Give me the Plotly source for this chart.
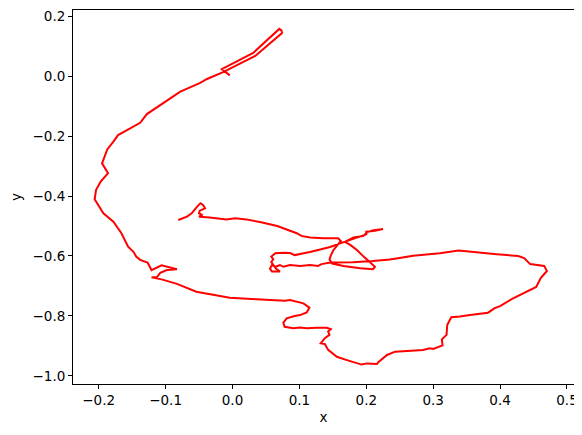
import plotly.graph_objects as go

x_vals = [-0.004, -0.016, 0.031, 0.070, 0.0732, 0.074, 0.034, -0.014, -0.038, -0.049,
          -0.078, -0.101, -0.128, -0.138, -0.171, -0.178, -0.187, -0.195, -0.186, -0.197,
          -0.204, -0.206, -0.193, -0.178, -0.166, -0.156, -0.148, -0.144, -0.138, -0.127,
          -0.121, -0.106, -0.093, -0.083, -0.098, -0.108, -0.113, -0.121, -0.106, -0.083,
          -0.054, -0.029, -0.004, 0.036, 0.078, 0.086, 0.106, 0.115, 0.111, 0.101,
          0.093, 0.081, 0.076, 0.078, 0.091, 0.101, 0.111, 0.126, 0.141, 0.147,
          0.143, 0.145, 0.138, 0.132, 0.138, 0.143, 0.156, 0.171, 0.183, 0.193,
          0.201, 0.216, 0.218, 0.231, 0.243, 0.265, 0.285, 0.295, 0.300, 0.314,
          0.313, 0.320, 0.321, 0.327, 0.340, 0.355, 0.370, 0.382, 0.392, 0.400,
          0.418, 0.440, 0.454, 0.461, 0.470, 0.466, 0.445, 0.436, 0.427, 0.395,
          0.380, 0.360, 0.338, 0.310, 0.270, 0.245, 0.235, 0.210, 0.180, 0.153,
          0.147, 0.133, 0.128, 0.116, 0.101, 0.086, 0.076, 0.071, 0.064, 0.059,
          0.056, 0.059, 0.071, 0.065, 0.058, 0.061, 0.058, 0.064, 0.076, 0.086,
          0.093, 0.116, 0.146, 0.162, 0.176, 0.200, 0.200, 0.213, 0.225, 0.209,
          0.200, 0.196, 0.181, 0.173, 0.168, 0.176, 0.186, 0.196, 0.206, 0.213,
          0.210, 0.191, 0.166, 0.149, 0.145, 0.147, 0.151, 0.158, 0.162, 0.158,
          0.136, 0.116, 0.103, 0.096, 0.067, 0.041, 0.021, 0.004, -0.009, -0.034,
          -0.050, -0.045, -0.050, -0.049, -0.041, -0.044, -0.048, -0.055, -0.061, -0.068,
          -0.081]
y_vals = [0.002, 0.023, 0.077, 0.157, 0.152, 0.143, 0.067, 0.013, -0.010, -0.024,
          -0.052, -0.086, -0.127, -0.156, -0.197, -0.219, -0.244, -0.291, -0.324, -0.352,
          -0.380, -0.411, -0.458, -0.486, -0.524, -0.569, -0.586, -0.602, -0.613, -0.622,
          -0.647, -0.631, -0.638, -0.644, -0.647, -0.656, -0.671, -0.671, -0.678, -0.693,
          -0.719, -0.730, -0.739, -0.744, -0.749, -0.747, -0.758, -0.772, -0.788, -0.797,
          -0.800, -0.808, -0.822, -0.836, -0.841, -0.838, -0.841, -0.839, -0.839, -0.844,
          -0.852, -0.863, -0.874, -0.891, -0.893, -0.913, -0.936, -0.947, -0.956, -0.962,
          -0.958, -0.960, -0.954, -0.930, -0.919, -0.917, -0.913, -0.908, -0.910, -0.898,
          -0.878, -0.863, -0.830, -0.804, -0.802, -0.797, -0.793, -0.789, -0.774, -0.767,
          -0.743, -0.720, -0.703, -0.673, -0.650, -0.633, -0.627, -0.607, -0.600, -0.594,
          -0.591, -0.586, -0.582, -0.591, -0.599, -0.608, -0.612, -0.617, -0.621, -0.622,
          -0.622, -0.627, -0.633, -0.630, -0.633, -0.630, -0.636, -0.630, -0.636, -0.630,
          -0.642, -0.652, -0.652, -0.642, -0.620, -0.611, -0.602, -0.591, -0.589, -0.590,
          -0.597, -0.587, -0.570, -0.557, -0.547, -0.528, -0.519, -0.516, -0.510, -0.515,
          -0.523, -0.533, -0.538, -0.547, -0.553, -0.563, -0.580, -0.602, -0.624, -0.636,
          -0.644, -0.641, -0.633, -0.625, -0.612, -0.598, -0.580, -0.560, -0.550, -0.541,
          -0.541, -0.538, -0.533, -0.524, -0.500, -0.487, -0.478, -0.474, -0.478, -0.472,
          -0.469, -0.463, -0.458, -0.449, -0.441, -0.430, -0.424, -0.441, -0.458, -0.469,
          -0.480]

x_range = [-0.2384, 0.5105]
y_range = [-1.0267, 0.22]

fig = go.Figure()
fig.add_trace(go.Scatter(x=x_vals, y=y_vals, mode="lines",
                         line=dict(color="red", width=2), showlegend=False))

axis_common = dict(
    showgrid=False, zeroline=False, showline=True, linecolor="black", linewidth=1,
    mirror=True, ticks="outside", ticklen=4, tickwidth=1, tickcolor="black",
    automargin=False, ticklabeloverflow="allow",
    tickfont=dict(family="DejaVu Sans", size=13.5, color="black"),
    title_font=dict(family="DejaVu Sans", size=13.5, color="black"),
)

fig.update_xaxes(range=x_range, dtick=0.1, tick0=0, tickformat=".1f",
                 title_text="x", title_standoff=5, **axis_common)
fig.update_yaxes(range=y_range, dtick=0.2, tick0=0, tickformat=".1f",
                 title_text="y", title_standoff=14, **axis_common)

# the page places the figure 8px in from the top-left corner of the window
fig.update_layout(
    width=574, height=427,
    margin=dict(l=65, r=8, t=2, b=51),
    plot_bgcolor="white", paper_bgcolor="white",
)

fig.write_html("out.html")
